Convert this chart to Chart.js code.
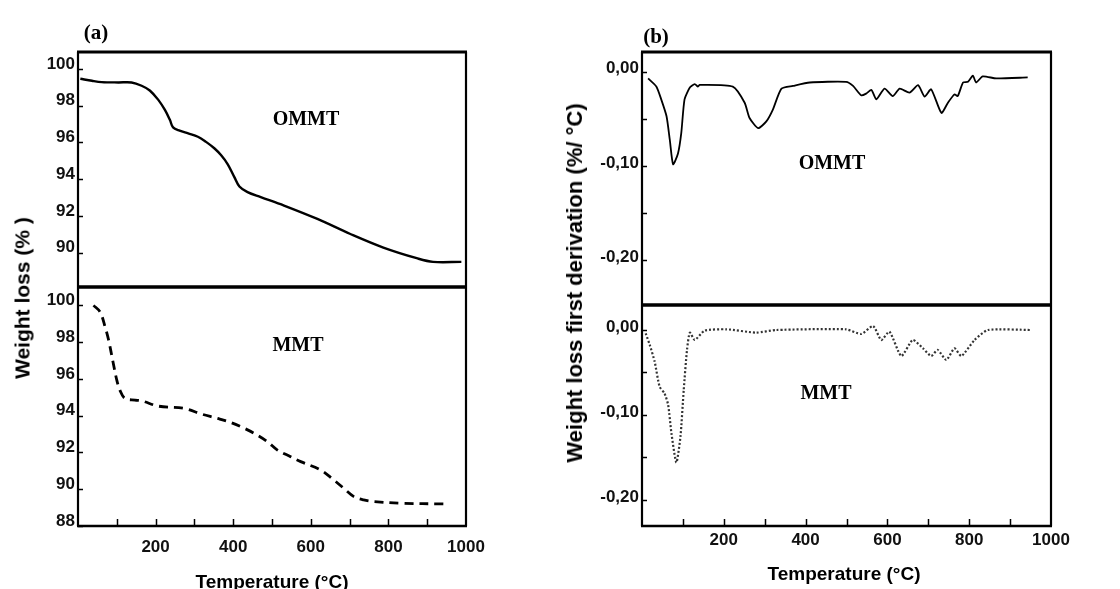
<!DOCTYPE html>
<html>
<head>
<meta charset="utf-8">
<script src="https://cdn.jsdelivr.net/npm/chart.js@4/dist/chart.umd.min.js"></script>
<style>
  html, body { margin: 0; padding: 0; background: #fff; }
  body { width: 1120px; height: 589px; position: relative; overflow: hidden; }
  canvas { position: absolute; }
  .lbl { position: absolute; white-space: nowrap; color: #000; transform: translate(-50%, -50%); line-height: 1; }
  .serif { font-family: "Liberation Serif", "Times New Roman", serif; font-weight: bold; }
  .sans { font-family: "Liberation Sans", Arial, sans-serif; font-weight: bold; }
  .rot { transform: translate(-50%, -50%) rotate(-90deg); }
</style>
</head>
<body>
<canvas id="a1" width="480" height="263" style="left:0px;top:38px"></canvas>
<canvas id="a2" width="500" height="313" style="left:0px;top:273px"></canvas>
<canvas id="b1" width="503" height="281" style="left:562px;top:38px"></canvas>
<canvas id="b2" width="520" height="295" style="left:562px;top:291px"></canvas>

<div class="lbl serif" style="left:96px;top:32px;font-size:21px">(a)</div>
<div class="lbl serif" style="left:656px;top:36px;font-size:21px">(b)</div>
<div class="lbl serif" style="left:306px;top:118px;font-size:20px">OMMT</div>
<div class="lbl serif" style="left:298px;top:344px;font-size:20px">MMT</div>
<div class="lbl serif" style="left:832px;top:162px;font-size:20px">OMMT</div>
<div class="lbl serif" style="left:826px;top:392px;font-size:20px">MMT</div>
<div class="lbl sans rot" style="left:22px;top:298px;font-size:21px">Weight loss (% )</div>
<div class="lbl sans rot" style="left:575px;top:283px;font-size:22px">Weight loss first derivation (%/ °C)</div>
<div class="lbl sans" style="left:272px;top:581px;font-size:19px">Temperature (°C)</div>
<div class="lbl sans" style="left:844px;top:573px;font-size:19px">Temperature (°C)</div>

<script>
// ---------- DATA ----------
// (a) TGA, OMMT
const tempOMMT_a = [6, 36, 61, 104, 138, 164, 185, 207, 224, 237, 245, 262, 284, 309, 330, 352, 369, 386, 403, 416, 437, 471, 531, 617, 702, 787, 873, 915, 988];
const weightOMMT = [99.47, 99.36, 99.29, 99.27, 99.27, 99.09, 98.83, 98.32, 97.77, 97.22, 96.82, 96.64, 96.49, 96.31, 96.03, 95.67, 95.30, 94.81, 94.11, 93.60, 93.29, 93.02, 92.56, 91.83, 91.01, 90.27, 89.69, 89.49, 89.49];
// (a) TGA, MMT
const tempMMT_a = [40, 57, 70, 79, 91, 100, 108, 121, 147, 164, 207, 275, 318, 360, 395, 429, 454, 488, 514, 548, 574, 625, 659, 685, 711, 736, 762, 830, 945];
const weightMMT = [100.0, 99.64, 98.82, 98.10, 96.84, 95.93, 95.39, 94.94, 94.85, 94.81, 94.52, 94.39, 94.09, 93.85, 93.62, 93.31, 93.04, 92.59, 92.13, 91.77, 91.50, 91.05, 90.51, 90.05, 89.60, 89.42, 89.33, 89.24, 89.20];
// (b) DTG, OMMT
const tempOMMT_b = [15, 35, 47, 60, 68, 76, 88, 96, 104, 117, 129, 137, 141, 222, 251, 263, 284, 304, 320, 341, 369, 410, 499, 516, 536, 548, 561, 573, 593, 613, 630, 654, 675, 691, 707, 732, 748, 764, 772, 785, 797, 809, 817, 833, 866, 943];
const derivOMMT = [-0.0072, -0.0158, -0.0294, -0.0474, -0.0725, -0.0984, -0.0869, -0.0653, -0.0294, -0.0169, -0.0133, -0.0158, -0.0140, -0.0158, -0.0330, -0.0492, -0.0600, -0.0528, -0.0402, -0.0180, -0.0151, -0.0115, -0.0108, -0.0151, -0.0251, -0.0233, -0.0194, -0.0294, -0.0180, -0.0259, -0.0180, -0.0223, -0.0144, -0.0266, -0.0187, -0.0438, -0.0330, -0.0241, -0.0259, -0.0115, -0.0108, -0.0043, -0.0115, -0.0050, -0.0072, -0.0061];
// (b) DTG, MMT
const tempMMT_b = [9, 19, 31, 43, 55, 64, 72, 84, 94, 102, 110, 117, 129, 153, 206, 279, 328, 499, 536, 565, 585, 605, 634, 662, 687, 707, 723, 744, 764, 781, 813, 846, 952];
const derivMMT = [-0.0039, -0.0176, -0.0373, -0.0667, -0.0745, -0.0882, -0.1216, -0.1560, -0.1255, -0.0706, -0.0235, -0.0031, -0.0118, -0.0008, 0.0008, -0.0031, 0.0, 0.0008, -0.0047, 0.0047, -0.0118, -0.0020, -0.0306, -0.0118, -0.0216, -0.0306, -0.0235, -0.0353, -0.0216, -0.0306, -0.0118, 0.0, 0.0];

// ticks
const xTicks = [0, 100, 200, 300, 400, 500, 600, 700, 800, 900, 1000];
const xLabels = ['', '', '200', '', '400', '', '600', '', '800', '', '1000'];
const yTicksA1 = [90, 92, 94, 96, 98, 100];
const yTicksA2 = [88, 90, 92, 94, 96, 98, 100];
const yTicksB = [0, -0.05, -0.10, -0.15, -0.20];
const yLabelsB = ['0,00', '', '-0,10', '', '-0,20'];

// ---------- RENDERING ----------
const SANS = '"Liberation Sans", Arial, sans-serif';
const tickFont = { family: SANS, size: 17, weight: 'bold' };

const framePlugin = {
  id: 'frame',
  afterDraw(chart, args, o) {
    const { ctx, chartArea: a } = chart;
    ctx.save();
    ctx.strokeStyle = '#000';
    ctx.lineCap = 'butt';
    ctx.lineWidth = 1.5;
    const ys = chart.scales.y;
    ys.ticks.forEach(t => {
      const p = Math.round(ys.getPixelForValue(t.value)) + 0.5;
      ctx.beginPath(); ctx.moveTo(a.left, p); ctx.lineTo(a.left + 5, p); ctx.stroke();
    });
    if (o.xTicks) {
      const xs = chart.scales.x;
      xs.ticks.forEach(t => {
        if (t.value <= 0 || t.value >= 1000) return;
        const p = Math.round(xs.getPixelForValue(t.value)) + 0.5;
        ctx.beginPath(); ctx.moveTo(p, a.bottom); ctx.lineTo(p, a.bottom - 7); ctx.stroke();
      });
    }
    ctx.lineWidth = 2.2;
    ctx.beginPath(); ctx.moveTo(a.left, a.top); ctx.lineTo(a.left, a.bottom); ctx.stroke();
    ctx.beginPath(); ctx.moveTo(a.right, a.top); ctx.lineTo(a.right, a.bottom); ctx.stroke();
    ctx.lineWidth = o.topW;
    ctx.beginPath(); ctx.moveTo(a.left - 1, a.top); ctx.lineTo(a.right + 1, a.top); ctx.stroke();
    ctx.lineWidth = o.bottomW;
    ctx.beginPath(); ctx.moveTo(a.left - 1, a.bottom); ctx.lineTo(a.right + 1, a.bottom); ctx.stroke();
    ctx.restore();
  }
};

function makeChart(id, cfg) {
  const pts = cfg.xs.map((x, i) => ({ x, y: cfg.ys[i] }));
  const xScale = {
    type: 'linear', min: 0, max: 1000,
    display: cfg.showX,
    afterBuildTicks: s => { s.ticks = xTicks.map(v => ({ value: v })); },
    ticks: { autoSkip: false, maxRotation: 0, font: tickFont, color: '#111', padding: cfg.xPad,
             callback: (v, i) => xLabels[i] },
    grid: { display: false, drawTicks: false },
    border: { display: false }
  };
  if (cfg.showX) xScale.afterFit = s => { s.height = 60; };
  return new Chart(document.getElementById(id), {
    type: 'line',
    data: { datasets: [{
      data: pts,
      borderColor: cfg.color,
      borderWidth: cfg.lw,
      borderDash: cfg.dash,
      pointRadius: 0,
      tension: cfg.tension,
      fill: false
    }] },
    plugins: [framePlugin],
    options: {
      responsive: false,
      animation: false,
      devicePixelRatio: 1,
      layout: { padding: cfg.pad },
      plugins: { legend: { display: false }, tooltip: { enabled: false }, frame: cfg.frame },
      scales: {
        x: xScale,
        y: {
          type: 'linear', min: cfg.ymin, max: cfg.ymax,
          afterBuildTicks: s => { s.ticks = cfg.yTicks.map(v => ({ value: v })); },
          ticks: { autoSkip: false, font: tickFont, color: '#111', padding: 3, labelOffset: cfg.yOff,
                   callback: (v, i) => cfg.yLabels[i] },
          grid: { display: false, drawTicks: false },
          border: { display: false },
          afterFit: s => { s.width = cfg.yW; }
        }
      }
    }
  });
}

// (a) top: chart area 78..466 x 52..287
makeChart('a1', {
  xs: tempOMMT_a, ys: weightOMMT, color: '#000', lw: 2.4, dash: [], tension: 0.35,
  pad: { top: 14, bottom: 14, left: 0, right: 14 }, showX: false, xPad: 10, yOff: -5,
  ymin: 88.12, ymax: 100.93, yTicks: yTicksA1, yLabels: yTicksA1.map(String), yW: 78,
  frame: { xTicks: false, topW: 3, bottomW: 3 }
});
// (a) bottom: chart area 78..466 x 287..526
makeChart('a2', {
  xs: tempMMT_a, ys: weightMMT, color: '#000', lw: 2.8, dash: [9, 6], tension: 0.35,
  pad: { top: 14, bottom: 0, left: 0, right: 34 }, showX: true, xPad: 11, yOff: -5,
  ymin: 88, ymax: 101.0, yTicks: yTicksA2, yLabels: yTicksA2.map(String), yW: 78,
  frame: { xTicks: true, topW: 3, bottomW: 2.4 }
});
// (b) top: chart area 642..1051 x 52..305
makeChart('b1', {
  xs: tempOMMT_b, ys: derivOMMT, color: '#000', lw: 1.8, dash: [], tension: 0.2,
  pad: { top: 14, bottom: 14, left: 0, right: 14 }, showX: false, xPad: 4, yOff: -3,
  ymin: -0.2478, ymax: 0.0209, yTicks: yTicksB, yLabels: yLabelsB, yW: 80,
  frame: { xTicks: false, topW: 3, bottomW: 3 }
});
// (b) bottom: chart area 642..1051 x 305..526
makeChart('b2', {
  xs: tempMMT_b, ys: derivMMT, color: '#333', lw: 2.2, dash: [2, 2], tension: 0.2,
  pad: { top: 14, bottom: 0, left: 0, right: 31 }, showX: true, xPad: 4, yOff: -3,
  ymin: -0.2306, ymax: 0.0294, yTicks: yTicksB, yLabels: yLabelsB, yW: 80,
  frame: { xTicks: true, topW: 3, bottomW: 2.4 }
});
</script>
</body>
</html>
